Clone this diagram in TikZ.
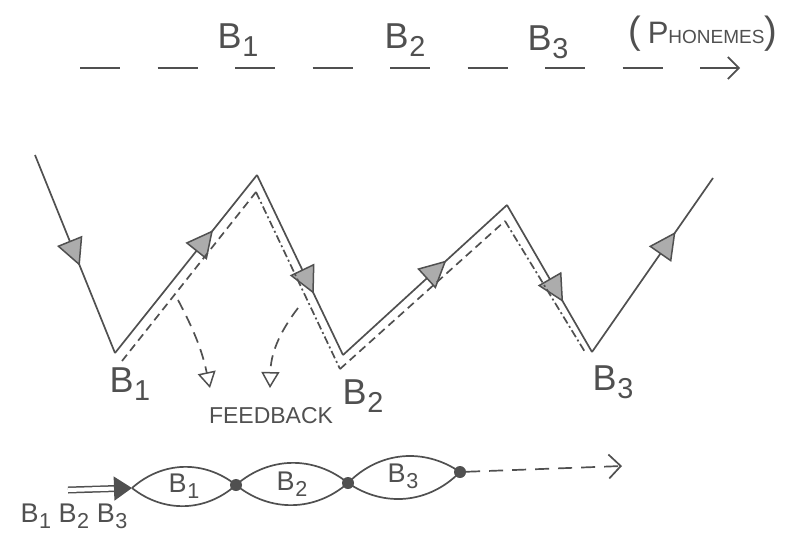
\documentclass[tikz,border=0pt]{standalone}
\usepackage{fontspec}
\setmainfont{Liberation Sans}
\usetikzlibrary{arrows.meta,decorations.markings}
\definecolor{ink}{HTML}{505050}
\newcommand\Bn[1]{B\kern0.5pt\raisebox{-0.4ex}{\scalebox{0.8}{#1}}}
\tikzset{
  inkline/.style={draw=ink, line width=1.7pt},
  midarrow/.style={postaction={decorate,decoration={markings,mark=at position #1 with {\arrow{Triangle[length=27pt,width=27pt,color=ink,fill=gray!65,line width=1.5pt]}}}}},
  dashA/.style={draw=ink, line width=1.7pt, dash pattern=on 8pt off 5pt},
  dashDot/.style={draw=ink, line width=1.7pt, dash pattern=on 8pt off 3pt on 2pt off 3pt},
  fb/.style={draw=ink, line width=1.7pt, dash pattern=on 11pt off 7pt, -{Triangle[open,length=16pt,width=18pt,line width=1.5pt]}},
  lbl/.style={text=ink, inner sep=0pt, font=\fontsize{36}{38}\selectfont},
  slbl/.style={text=ink, inner sep=0pt, font=\fontsize{27}{29}\selectfont},
  lens/.style={draw=ink, line width=1.7pt},
  dot/.style={circle, fill=ink, inner sep=0pt, minimum size=12pt},
}
\begin{document}
\begin{tikzpicture}[x=1pt,y=-1pt]
\useasboundingbox (0,0) rectangle (789,536);
% top phoneme line
\coordinate (t0) at (80,68);
\coordinate (t1) at (740,68);
\draw[draw=ink, line width=1.9pt, dash pattern=on 40pt off 37.5pt, -{Straight Barb[length=11pt,width=22pt,line width=1.7pt]}] (t0) -- (t1);
\node[lbl] (tb1) at (238,40) {\Bn{1}};
\node[lbl] (tb2) at (405,40) {\Bn{2}};
\node[lbl] (tb3) at (548,42) {\Bn{3}};
\node[text=ink, inner sep=0pt, font=\fontsize{38}{40}\selectfont] (ph) at (703,34) {(\,{\fontsize{31}{32}\selectfont P}{\fontsize{19}{20}\selectfont HONEMES})};
% zigzag
\coordinate (S) at (35,155);
\coordinate (B1) at (115,353);
\coordinate (P1) at (257,175);
\coordinate (B2) at (343,355);
\coordinate (P2) at (507,205);
\coordinate (B3) at (592,352);
\coordinate (E) at (713,178);
\draw[inkline, midarrow=0.56] (S) -- (B1);
\draw[inkline, midarrow=0.69] (B1) -- (P1);
\draw[inkline, midarrow=0.66] (P1) -- (B2);
\draw[inkline, midarrow=0.63] (B2) -- (P2);
\draw[inkline, midarrow=0.66] (P2) -- (B3);
\draw[inkline, midarrow=0.69] (B3) -- (E);
% dashed companion path
\coordinate (c1) at (122,361);
\coordinate (c2) at (256,192);
\coordinate (c3) at (340,369);
\coordinate (c4) at (505,221);
\coordinate (c5) at (585,352);
\draw[dashA] (c1) -- (c2);
\draw[dashDot] (c2) -- (c3);
\draw[dashA] (c3) -- (c4);
\draw[dashDot] (c4) -- (c5);
% feedback arrows
\coordinate (f1s) at (178,300);
\coordinate (f1e) at (210,388);
\coordinate (f2s) at (298,308);
\coordinate (f2e) at (270,388);
\draw[fb] (f1s) to[bend left=8] (f1e);
\draw[fb] (f2s) to[bend right=18] (f2e);
% labels
\node[lbl] (lb1) at (130,384) {\Bn{1}};
\node[lbl] (lb2) at (363,396) {\Bn{2}};
\node[lbl] (lb3) at (613,382) {\Bn{3}};
\node[text=ink, inner sep=0pt, font=\fontsize{23}{24}\selectfont] (fbk) at (271,416) {FEEDBACK};
% bottom chain
\coordinate (in) at (68,490);
\coordinate (L0) at (132,488);
\node[dot] (L1) at (236,485) {};
\node[dot] (L2) at (348,483) {};
\node[dot] (L3) at (460,472) {};
\coordinate (Lend) at (622,466);
\draw[draw=ink, line width=1.5pt, double=white, double distance=4pt, -{Triangle[length=18pt,width=24pt,fill=ink]}] (in) -- (L0);
\draw[lens] (L0) to[bend left=40] (L1.center) to[bend left=40] (L0);
\draw[lens] (L1.center) to[bend left=40] (L2.center) to[bend left=40] (L1.center);
\draw[lens] (L2.center) to[bend left=40] (L3.center) to[bend left=40] (L2.center);
\draw[draw=ink, line width=1.7pt, dash pattern=on 14pt off 9pt, -{Straight Barb[length=12pt,width=24pt,line width=1.7pt]}] (L3) -- (Lend);
\node[slbl] (n1) at (184,486) {\Bn{1}};
\node[slbl] (n2) at (292,484) {\Bn{2}};
\node[slbl] (n3) at (403,476) {\Bn{3}};
\node[slbl] (inl) at (74,516) {\Bn{1} \Bn{2} \Bn{3}};
\end{tikzpicture}
\end{document}
